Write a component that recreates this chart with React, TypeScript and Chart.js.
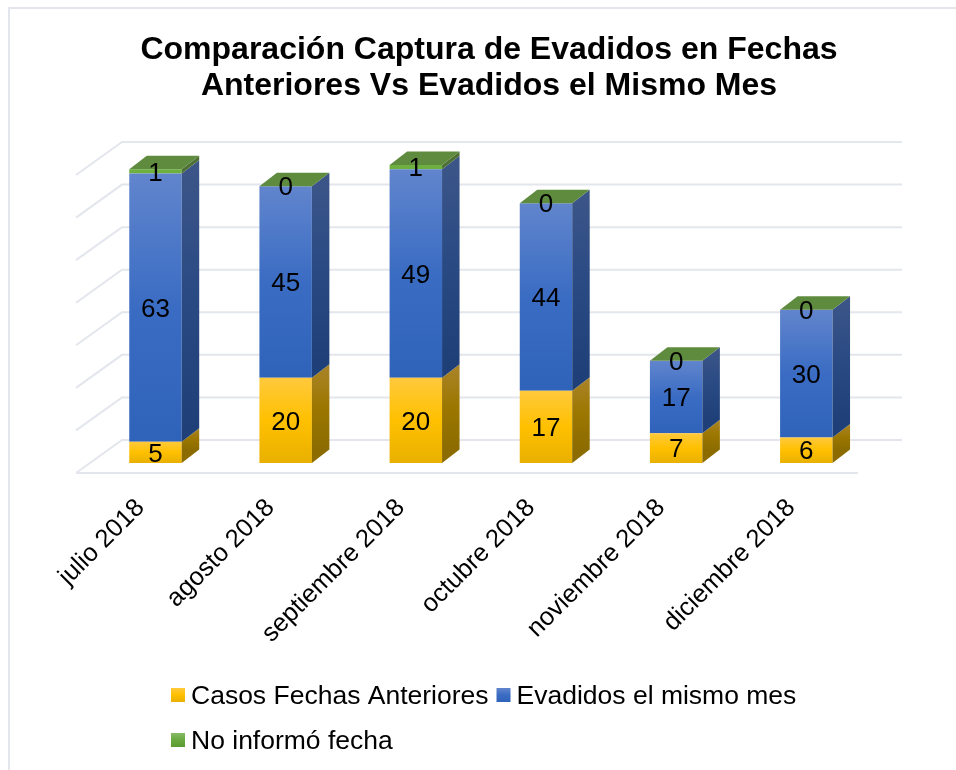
import React, { useEffect, useRef } from "react";
import { Chart, registerables } from "chart.js";

Chart.register(...registerables);

const categories = ["julio 2018", "agosto 2018", "septiembre 2018", "octubre 2018", "noviembre 2018", "diciembre 2018"];
const casosFechasAnteriores = [5, 20, 20, 17, 7, 6];
const evadidosMismoMes = [63, 45, 49, 44, 17, 30];
const noInformoFecha = [1, 0, 1, 0, 0, 0];
const seriesLabels = ["Casos Fechas Anteriores", "Evadidos el mismo mes", "No informó fecha"];
const titleLines = ["Comparación Captura de Evadidos en Fechas", "Anteriores Vs Evadidos el Mismo Mes"];
const seriesValues = [casosFechasAnteriores, evadidosMismoMes, noInformoFecha];

const FONT = '"Liberation Sans", Arial, sans-serif';
const GRID = "#e3e6ec";
const frontStops = [
  ["#ffc93c", "#ffc000", "#e8b000"],
  ["#6185cd", "#3a6cc3", "#2f63b9"],
  ["#6db03f", "#6db03f", "#6db03f"],
];
const sideStops = [
  ["#aa842a", "#9c7700", "#8c6c00"],
  ["#3d5688", "#2a4a84", "#1f3f79"],
  ["#4e7034", "#4e7034", "#4e7034"],
];
const swatchStops = [
  ["#ffc93c", "#ffc000", "#e8b000"],
  ["#6185cd", "#3a6cc3", "#2f63b9"],
  ["#85bb65", "#6aa840", "#5c9a32"],
];
const TOP_FACE = "#5f8b3f";
const DEPTH_X = 17.5;
const DEPTH_Y = 13.5;

function grad(ctx: CanvasRenderingContext2D, y0: number, y1: number, stops: string[]) {
  const g = ctx.createLinearGradient(0, y0, 0, y1);
  g.addColorStop(0, stops[0]);
  g.addColorStop(0.5, stops[1]);
  g.addColorStop(1, stops[2]);
  return g;
}

const frontFill = (c: any) => {
  const ds = c.datasetIndex;
  const i = c.dataIndex;
  const yScale = c.chart.scales.y;
  if (i === undefined || !yScale) return frontStops[ds][1];
  let low = 0;
  for (let k = 0; k < ds; k++) low += seriesValues[k][i];
  const high = low + seriesValues[ds][i];
  const y0 = yScale.getPixelForValue(high);
  const y1 = yScale.getPixelForValue(low);
  if (!Number.isFinite(y0) || !Number.isFinite(y1)) return frontStops[ds][1];
  return grad(c.chart.ctx, y0, y1, frontStops[ds]);
};

const scene3d = {
  id: "scene3d",
  beforeDraw(chart: any) {
    const { ctx, width, height } = chart;
    ctx.save();
    ctx.fillStyle = "#ffffff";
    ctx.fillRect(0, 0, width, height);
    ctx.strokeStyle = GRID;
    ctx.lineWidth = 2;
    ctx.beginPath();
    ctx.moveTo(9, height);
    ctx.lineTo(9, 8);
    ctx.lineTo(width, 8);
    ctx.stroke();
    ctx.restore();
  },
  beforeDatasetsDraw(chart: any) {
    const { ctx, scales } = chart;
    const { x, y } = scales;
    ctx.save();
    ctx.strokeStyle = GRID;
    ctx.lineWidth = 2;
    ctx.lineCap = "butt";
    const x0 = x.left - 14.4;
    const xb0 = x.left + 31.6;
    const xb1 = x.right + 30.6;
    for (const t of y.ticks) {
      const py = y.getPixelForValue(t.value);
      ctx.beginPath();
      ctx.moveTo(x0, py + 10);
      ctx.lineTo(xb0, py - 23);
      ctx.lineTo(xb1, py - 23);
      ctx.stroke();
    }
    const y0 = y.getPixelForValue(0) + 10;
    ctx.beginPath();
    ctx.moveTo(x0, y0);
    ctx.lineTo(x.right - 13.4, y0);
    ctx.stroke();
    ctx.restore();
  },
  afterDatasetsDraw(chart: any) {
    const { ctx } = chart;
    ctx.save();
    seriesValues.forEach((vals, ds) => {
      const meta = chart.getDatasetMeta(ds);
      meta.data.forEach((bar: any, i: number) => {
        const left = bar.x - bar.width / 2;
        const right = bar.x + bar.width / 2;
        const top = bar.y;
        const base = bar.base;
        if (vals[i] > 0) {
          ctx.fillStyle = grad(ctx, top - DEPTH_Y, base - DEPTH_Y, sideStops[ds]);
          ctx.beginPath();
          ctx.moveTo(right, top);
          ctx.lineTo(right + DEPTH_X, top - DEPTH_Y);
          ctx.lineTo(right + DEPTH_X, base - DEPTH_Y);
          ctx.lineTo(right, base);
          ctx.closePath();
          ctx.fill();
        }
        if (ds === seriesValues.length - 1) {
          ctx.fillStyle = TOP_FACE;
          ctx.beginPath();
          ctx.moveTo(left, top);
          ctx.lineTo(left + DEPTH_X, top - DEPTH_Y);
          ctx.lineTo(right + DEPTH_X, top - DEPTH_Y);
          ctx.lineTo(right, top);
          ctx.closePath();
          ctx.fill();
        }
      });
    });
    ctx.fillStyle = "#000000";
    ctx.font = `26px ${FONT}`;
    ctx.textAlign = "center";
    ctx.textBaseline = "middle";
    seriesValues.forEach((vals, ds) => {
      const meta = chart.getDatasetMeta(ds);
      meta.data.forEach((bar: any, i: number) => {
        ctx.fillText(String(vals[i]), bar.x, (bar.y + bar.base) / 2 + 2);
      });
    });
    ctx.restore();
  },
  afterDraw(chart: any) {
    const { ctx } = chart;
    ctx.save();
    ctx.font = `26.5px ${FONT}`;
    ctx.textBaseline = "middle";
    ctx.textAlign = "left";
    const box = 14;
    const startX = 171;
    const rows = [[0, 1], [2]];
    const rowY = [695, 740];
    rows.forEach((row, r) => {
      let cx = startX;
      row.forEach((ds) => {
        const cy = rowY[r];
        ctx.fillStyle = grad(ctx, cy - box / 2, cy + box / 2, swatchStops[ds]);
        ctx.fillRect(cx, cy - box / 2, box, box);
        ctx.fillStyle = "#000000";
        ctx.fillText(seriesLabels[ds], cx + box + 6, cy + 1.5);
        cx += box + 6 + ctx.measureText(seriesLabels[ds]).width + 8;
      });
    });
    ctx.restore();
  },
};

export default function App() {
  const ref = useRef<HTMLCanvasElement>(null);
  useEffect(() => {
    const chart = new Chart(ref.current as HTMLCanvasElement, {
      type: "bar",
      data: {
        labels: categories,
        datasets: seriesValues.map((data, i) => ({
          label: seriesLabels[i],
          data,
          backgroundColor: frontFill,
          borderWidth: 0,
          barPercentage: 0.403,
          categoryPercentage: 1,
        })),
      },
      options: {
        responsive: false,
        animation: false,
        layout: { padding: { left: 22, right: 0, top: 0, bottom: 0 } },
        plugins: {
          legend: { display: false },
          tooltip: { enabled: false },
          title: {
            display: true,
            text: titleLines,
            color: "#000000",
            align: "center",
            font: { family: FONT, size: 32, weight: "bold", lineHeight: 1.125 },
            padding: { top: 32, bottom: 61 },
          },
        },
        scales: {
          x: {
            stacked: true,
            grid: { display: false, drawTicks: false },
            border: { display: false },
            afterFit: (s: any) => {
              s.height = 307;
            },
            ticks: {
              color: "#000000",
              font: { family: FONT, size: 25.5 },
              maxRotation: 45,
              minRotation: 45,
              autoSkip: false,
              padding: 30,
              labelOffset: -15,
            },
          },
          y: {
            stacked: true,
            min: 0,
            max: 70,
            grid: { display: false, drawTicks: false },
            border: { display: false },
            ticks: { display: false, stepSize: 10 },
            afterFit: (s: any) => {
              s.width = 68.4;
            },
          },
          yRight: {
            type: "linear",
            position: "right",
            grid: { display: false, drawTicks: false },
            border: { display: false },
            ticks: { display: false },
            afterFit: (s: any) => {
              s.width = 84.6;
            },
          },
        },
      },
      plugins: [scene3d],
    } as any);
    return () => chart.destroy();
  }, []);
  return (
    <div style={{ position: "absolute", left: 0, top: 0, width: 956, height: 770, overflow: "hidden" }}>
      <canvas ref={ref} width={956} height={770} style={{ display: "block" }} />
    </div>
  );
}
